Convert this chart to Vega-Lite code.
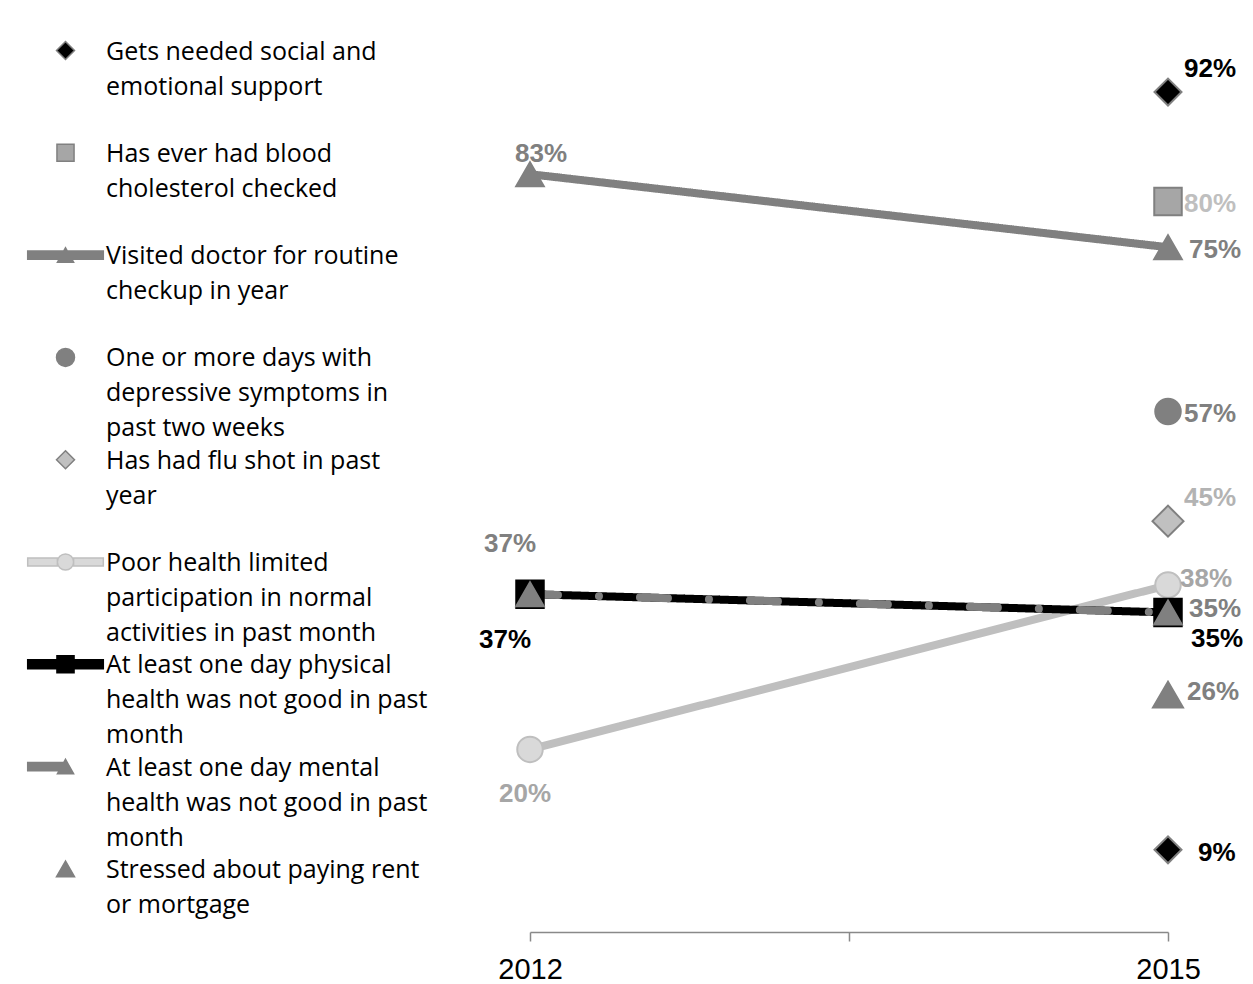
{
  "$schema": "https://vega.github.io/schema/vega-lite/v6.json",
  "width": 638,
  "height": 913,
  "autosize": {"type": "none"},
  "padding": {"left": 530, "top": 19, "right": 85, "bottom": 52},
  "background": "white",
  "config": {
    "view": {"stroke": null},
    "legend": {
      "gridAlign": "all",
      "padding": 0,
      "rowPadding": 5.3,
      "labelFont": "Open Sans",
      "labelFontSize": 25,
      "labelColor": "#000000",
      "labelLimit": 0,
      "labelOffset": 28,
      "labelBaseline": "alphabetic",
      "symbolSize": 324,
      "symbolStrokeWidth": 1.5,
      "symbolOpacity": 1
    }
  },
  "data": {
    "values": [
      {"series": "Gets needed social and emotional support", "year": 2015, "value": 0.92},
      {"series": "Gets needed social and emotional support", "year": 2015, "value": 0.09},
      {"series": "Has ever had blood cholesterol checked", "year": 2015, "value": 0.80},
      {"series": "Visited doctor for routine checkup in year", "year": 2012, "value": 0.83},
      {"series": "Visited doctor for routine checkup in year", "year": 2015, "value": 0.75},
      {"series": "One or more days with depressive symptoms in past two weeks", "year": 2015, "value": 0.57},
      {"series": "Has had flu shot in past year", "year": 2015, "value": 0.45},
      {"series": "Poor health limited participation in normal activities in past month", "year": 2012, "value": 0.20},
      {"series": "Poor health limited participation in normal activities in past month", "year": 2015, "value": 0.38},
      {"series": "At least one day physical health was not good in past month", "year": 2012, "value": 0.37},
      {"series": "At least one day physical health was not good in past month", "year": 2015, "value": 0.35},
      {"series": "At least one day mental health was not good in past month", "year": 2012, "value": 0.37},
      {"series": "At least one day mental health was not good in past month", "year": 2015, "value": 0.35},
      {"series": "Stressed about paying rent or mortgage", "year": 2015, "value": 0.26}
    ]
  },
  "encoding": {
    "x": {
      "field": "year", "type": "quantitative",
      "scale": {"domain": [2012, 2015]},
      "axis": {
        "values": [2012, 2013.5, 2015], "format": "d",
        "labelExpr": "datum.value == 2013.5 ? '' : datum.label",
        "grid": false, "title": null,
        "domainColor": "#898989", "domainWidth": 1.5,
        "tickColor": "#898989", "tickWidth": 1.5, "tickSize": 9,
        "labelFont": "Liberation Sans", "labelFontSize": 29, "labelColor": "#000000",
        "labelPadding": 14, "labelFlush": false, "labelOverlap": false
      }
    },
    "y": {"field": "value", "type": "quantitative", "scale": {"domain": [0, 1]}, "axis": null}
  },
  "layer": [
    {
      "mark": {"type": "point", "filled": true, "opacity": 0, "size": 324},
      "encoding": {
        "fill": {
          "field": "series", "type": "nominal",
          "scale": {
            "domain": ["Gets needed social and emotional support", "Has ever had blood cholesterol checked", "Visited doctor for routine checkup in year", "One or more days with depressive symptoms in past two weeks", "Has had flu shot in past year", "Poor health limited participation in normal activities in past month", "At least one day physical health was not good in past month", "At least one day mental health was not good in past month", "Stressed about paying rent or mortgage"],
            "range": ["#000000", "#a6a6a6", "#808080", "#808080", "#c0c0c0", "#d9d9d9", "#000000", "#808080", "#808080"]
          },
          "legend": {
            "title": null, "orient": "none", "legendX": -477, "legendY": 19,
            "labelExpr": "datum.label == 'Gets needed social and emotional support' ? ['Gets needed social and', 'emotional support'] : datum.label == 'Has ever had blood cholesterol checked' ? ['Has ever had blood', 'cholesterol checked'] : datum.label == 'Visited doctor for routine checkup in year' ? ['Visited doctor for routine', 'checkup in year'] : datum.label == 'One or more days with depressive symptoms in past two weeks' ? ['One or more days with', 'depressive symptoms in', 'past two weeks'] : datum.label == 'Has had flu shot in past year' ? ['Has had flu shot in past', 'year'] : datum.label == 'Poor health limited participation in normal activities in past month' ? ['Poor health limited', 'participation in normal', 'activities in past month'] : datum.label == 'At least one day physical health was not good in past month' ? ['At least one day physical', 'health was not good in past', 'month'] : datum.label == 'At least one day mental health was not good in past month' ? ['At least one day mental', 'health was not good in past', 'month'] : ['Stressed about paying rent', 'or mortgage']",
            "symbolOpacity": 1, "symbolSize": 324,
            "encode": {"labels": {"update": {"lineHeight": {"value": 35}, "dy": {"value": 9}}}}
          }
        },
        "stroke": {
          "field": "series", "type": "nominal",
          "scale": {
            "domain": ["Gets needed social and emotional support", "Has ever had blood cholesterol checked", "Visited doctor for routine checkup in year", "One or more days with depressive symptoms in past two weeks", "Has had flu shot in past year", "Poor health limited participation in normal activities in past month", "At least one day physical health was not good in past month", "At least one day mental health was not good in past month", "Stressed about paying rent or mortgage"],
            "range": ["#808080", "#808080", "#808080", "#808080", "#808080", "#bfbfbf", "#000000", "#808080", "#808080"]
          },
          "legend": {
            "title": null, "orient": "none", "legendX": -477, "legendY": 19,
            "labelExpr": "datum.label == 'Gets needed social and emotional support' ? ['Gets needed social and', 'emotional support'] : datum.label == 'Has ever had blood cholesterol checked' ? ['Has ever had blood', 'cholesterol checked'] : datum.label == 'Visited doctor for routine checkup in year' ? ['Visited doctor for routine', 'checkup in year'] : datum.label == 'One or more days with depressive symptoms in past two weeks' ? ['One or more days with', 'depressive symptoms in', 'past two weeks'] : datum.label == 'Has had flu shot in past year' ? ['Has had flu shot in past', 'year'] : datum.label == 'Poor health limited participation in normal activities in past month' ? ['Poor health limited', 'participation in normal', 'activities in past month'] : datum.label == 'At least one day physical health was not good in past month' ? ['At least one day physical', 'health was not good in past', 'month'] : datum.label == 'At least one day mental health was not good in past month' ? ['At least one day mental', 'health was not good in past', 'month'] : ['Stressed about paying rent', 'or mortgage']",
            "symbolOpacity": 1, "symbolSize": 324,
            "encode": {"labels": {"update": {"lineHeight": {"value": 35}, "dy": {"value": 9}}}}
          }
        },
        "shape": {
          "field": "series", "type": "nominal",
          "scale": {
            "domain": ["Gets needed social and emotional support", "Has ever had blood cholesterol checked", "Visited doctor for routine checkup in year", "One or more days with depressive symptoms in past two weeks", "Has had flu shot in past year", "Poor health limited participation in normal activities in past month", "At least one day physical health was not good in past month", "At least one day mental health was not good in past month", "Stressed about paying rent or mortgage"],
            "range": [
              "M0,-1L1,0L0,1L-1,0Z",
              "M-0.95,-0.95H0.95V0.95H-0.95Z",
              "M-4.2,-0.45H4.2V0.45H-4.2Z M-0.9,0.8L0,-0.8L0.9,0.8Z",
              "circle",
              "M0,-1L1,0L0,1L-1,0Z",
              "M-4.2,-0.45H-0.9V0.45H-4.2Z M0.9,-0.45H4.2V0.45H0.9Z M-0.9,0A0.9,0.9 0 1,0 0.9,0A0.9,0.9 0 1,0 -0.9,0Z",
              "M-4.2,-0.5H4.2V0.5H-4.2Z M-0.95,-0.95H0.95V0.95H-0.95Z",
              "M-4.2,-0.45H0V0.45H-4.2Z M-0.9,0.8L0,-0.8L0.9,0.8Z",
              "triangle-up"
            ]
          },
          "legend": {
            "title": null, "orient": "none", "legendX": -477, "legendY": 19,
            "labelExpr": "datum.label == 'Gets needed social and emotional support' ? ['Gets needed social and', 'emotional support'] : datum.label == 'Has ever had blood cholesterol checked' ? ['Has ever had blood', 'cholesterol checked'] : datum.label == 'Visited doctor for routine checkup in year' ? ['Visited doctor for routine', 'checkup in year'] : datum.label == 'One or more days with depressive symptoms in past two weeks' ? ['One or more days with', 'depressive symptoms in', 'past two weeks'] : datum.label == 'Has had flu shot in past year' ? ['Has had flu shot in past', 'year'] : datum.label == 'Poor health limited participation in normal activities in past month' ? ['Poor health limited', 'participation in normal', 'activities in past month'] : datum.label == 'At least one day physical health was not good in past month' ? ['At least one day physical', 'health was not good in past', 'month'] : datum.label == 'At least one day mental health was not good in past month' ? ['At least one day mental', 'health was not good in past', 'month'] : ['Stressed about paying rent', 'or mortgage']",
            "symbolOpacity": 1, "symbolSize": 324,
            "encode": {"labels": {"update": {"lineHeight": {"value": 35}, "dy": {"value": 9}}}}
          }
        }
      }
    },
    {
      "transform": [{"filter": "datum.series == 'Visited doctor for routine checkup in year' || datum.series == 'Poor health limited participation in normal activities in past month' || datum.series == 'At least one day physical health was not good in past month' || datum.series == 'At least one day mental health was not good in past month'"}],
      "mark": {"type": "line", "strokeWidth": 8, "strokeCap": "round"},
      "encoding": {
        "stroke": {"field": "series", "type": "nominal", "legend": null},
        "strokeDash": {
          "field": "series", "type": "nominal", "legend": null,
          "scale": {
            "domain": ["Visited doctor for routine checkup in year", "Poor health limited participation in normal activities in past month", "At least one day physical health was not good in past month", "At least one day mental health was not good in past month"],
            "range": [[1, 0], [1, 0], [1, 0], [28, 41, 0.01, 41]]
          }
        },
        "order": {"field": "year", "type": "quantitative"}
      }
    },
    {
      "transform": [{"filter": "datum.series == 'One or more days with depressive symptoms in past two weeks' || datum.series == 'Poor health limited participation in normal activities in past month'"}],
      "mark": {"type": "point", "shape": "circle", "filled": true, "opacity": 1, "strokeWidth": 2, "size": 650},
      "encoding": {
        "fill": {"field": "series", "type": "nominal", "legend": null},
        "stroke": {"field": "series", "type": "nominal", "legend": null}
      }
    },
    {
      "transform": [{"filter": "datum.series == 'Has ever had blood cholesterol checked' || datum.series == 'At least one day physical health was not good in past month'"}],
      "mark": {"type": "point", "shape": "square", "filled": true, "opacity": 1, "strokeWidth": 2, "size": 756},
      "encoding": {
        "fill": {"field": "series", "type": "nominal", "legend": null},
        "stroke": {"field": "series", "type": "nominal", "legend": null}
      }
    },
    {
      "transform": [{"filter": "datum.series == 'Gets needed social and emotional support'"}],
      "mark": {"type": "point", "shape": "diamond", "filled": true, "opacity": 1, "strokeWidth": 2, "size": 729},
      "encoding": {
        "fill": {"field": "series", "type": "nominal", "legend": null},
        "stroke": {"field": "series", "type": "nominal", "legend": null}
      }
    },
    {
      "transform": [{"filter": "datum.series == 'Has had flu shot in past year'"}],
      "mark": {"type": "point", "shape": "diamond", "filled": true, "opacity": 1, "strokeWidth": 2, "size": 961},
      "encoding": {
        "fill": {"field": "series", "type": "nominal", "legend": null},
        "stroke": {"field": "series", "type": "nominal", "legend": null}
      }
    },
    {
      "transform": [{"filter": "datum.series == 'Visited doctor for routine checkup in year' || datum.series == 'At least one day mental health was not good in past month'"}],
      "mark": {"type": "point", "shape": "triangle-up", "filled": true, "opacity": 1, "strokeWidth": 2, "size": 760},
      "encoding": {
        "fill": {"field": "series", "type": "nominal", "legend": null},
        "stroke": {"field": "series", "type": "nominal", "legend": null}
      }
    },
    {
      "transform": [{"filter": "datum.series == 'Stressed about paying rent or mortgage'"}],
      "mark": {"type": "point", "shape": "triangle-up", "filled": true, "opacity": 1, "strokeWidth": 2, "size": 900},
      "encoding": {
        "fill": {"field": "series", "type": "nominal", "legend": null},
        "stroke": {"field": "series", "type": "nominal", "legend": null}
      }
    },
    {
      "transform": [{"filter": "datum.year == 2015 && (datum.series == 'Has ever had blood cholesterol checked' || datum.series == 'One or more days with depressive symptoms in past two weeks')"}],
      "mark": {"type": "text", "align": "left", "baseline": "middle", "dx": 16, "dy": 2, "font": "Liberation Sans", "fontWeight": "bold", "fontSize": 26},
      "encoding": {
        "text": {"field": "value", "type": "quantitative", "format": ".0%"},
        "color": {
          "field": "series", "type": "nominal", "legend": null,
          "scale": {
            "domain": ["Gets needed social and emotional support", "Has ever had blood cholesterol checked", "Visited doctor for routine checkup in year", "One or more days with depressive symptoms in past two weeks", "Has had flu shot in past year", "Poor health limited participation in normal activities in past month", "At least one day physical health was not good in past month", "At least one day mental health was not good in past month", "Stressed about paying rent or mortgage"],
            "range": ["#000000", "#bfbfbf", "#808080", "#808080", "#b3b3b3", "#a6a6a6", "#000000", "#808080", "#808080"]
          }
        }
      }
    },
    {
      "transform": [{"filter": "datum.year == 2015 && datum.series == 'Visited doctor for routine checkup in year'"}],
      "mark": {"type": "text", "align": "left", "baseline": "middle", "dx": 21, "dy": 3, "font": "Liberation Sans", "fontWeight": "bold", "fontSize": 26},
      "encoding": {
        "text": {"field": "value", "type": "quantitative", "format": ".0%"},
        "color": {"field": "series", "type": "nominal", "legend": null}
      }
    },
    {
      "transform": [{"filter": "datum.year == 2015 && datum.series == 'At least one day mental health was not good in past month'"}],
      "mark": {"type": "text", "align": "left", "baseline": "middle", "dx": 21, "dy": -3, "font": "Liberation Sans", "fontWeight": "bold", "fontSize": 26},
      "encoding": {
        "text": {"field": "value", "type": "quantitative", "format": ".0%"},
        "color": {"field": "series", "type": "nominal", "legend": null}
      }
    },
    {
      "transform": [{"filter": "datum.series == 'Gets needed social and emotional support' && datum.value < 0.5"}],
      "mark": {"type": "text", "align": "left", "baseline": "middle", "dx": 30, "dy": 3, "font": "Liberation Sans", "fontWeight": "bold", "fontSize": 26},
      "encoding": {
        "text": {"field": "value", "type": "quantitative", "format": ".0%"},
        "color": {"field": "series", "type": "nominal", "legend": null}
      }
    },
    {
      "transform": [{"filter": "(datum.series == 'Gets needed social and emotional support' && datum.value > 0.5) || datum.series == 'Has had flu shot in past year'"}],
      "mark": {"type": "text", "align": "left", "baseline": "middle", "dx": 16, "dy": -23, "font": "Liberation Sans", "fontWeight": "bold", "fontSize": 26},
      "encoding": {
        "text": {"field": "value", "type": "quantitative", "format": ".0%"},
        "color": {"field": "series", "type": "nominal", "legend": null}
      }
    },
    {
      "transform": [{"filter": "datum.year == 2015 && datum.series == 'Poor health limited participation in normal activities in past month'"}],
      "mark": {"type": "text", "align": "left", "baseline": "middle", "dx": 12, "dy": -6, "font": "Liberation Sans", "fontWeight": "bold", "fontSize": 26},
      "encoding": {
        "text": {"field": "value", "type": "quantitative", "format": ".0%"},
        "color": {"field": "series", "type": "nominal", "legend": null}
      }
    },
    {
      "transform": [{"filter": "datum.series == 'Stressed about paying rent or mortgage'"}],
      "mark": {"type": "text", "align": "left", "baseline": "middle", "dx": 19, "dy": -3, "font": "Liberation Sans", "fontWeight": "bold", "fontSize": 26},
      "encoding": {
        "text": {"field": "value", "type": "quantitative", "format": ".0%"},
        "color": {"field": "series", "type": "nominal", "legend": null}
      }
    },
    {
      "transform": [{"filter": "datum.year == 2015 && datum.series == 'At least one day physical health was not good in past month'"}],
      "mark": {"type": "text", "align": "left", "baseline": "middle", "dx": 23, "dy": 27, "font": "Liberation Sans", "fontWeight": "bold", "fontSize": 26},
      "encoding": {
        "text": {"field": "value", "type": "quantitative", "format": ".0%"},
        "color": {"field": "series", "type": "nominal", "legend": null}
      }
    },
    {
      "transform": [{"filter": "datum.year == 2012 && datum.series == 'Visited doctor for routine checkup in year'"}],
      "mark": {"type": "text", "align": "center", "baseline": "middle", "dx": 11, "dy": -20, "font": "Liberation Sans", "fontWeight": "bold", "fontSize": 26},
      "encoding": {
        "text": {"field": "value", "type": "quantitative", "format": ".0%"},
        "color": {"field": "series", "type": "nominal", "legend": null}
      }
    },
    {
      "transform": [{"filter": "datum.year == 2012 && datum.series == 'At least one day mental health was not good in past month'"}],
      "mark": {"type": "text", "align": "center", "baseline": "middle", "dx": -20, "dy": -50, "font": "Liberation Sans", "fontWeight": "bold", "fontSize": 26},
      "encoding": {
        "text": {"field": "value", "type": "quantitative", "format": ".0%"},
        "color": {"field": "series", "type": "nominal", "legend": null}
      }
    },
    {
      "transform": [{"filter": "datum.year == 2012 && datum.series == 'At least one day physical health was not good in past month'"}],
      "mark": {"type": "text", "align": "center", "baseline": "middle", "dx": -25, "dy": 46, "font": "Liberation Sans", "fontWeight": "bold", "fontSize": 26},
      "encoding": {
        "text": {"field": "value", "type": "quantitative", "format": ".0%"},
        "color": {"field": "series", "type": "nominal", "legend": null}
      }
    },
    {
      "transform": [{"filter": "datum.year == 2012 && datum.series == 'Poor health limited participation in normal activities in past month'"}],
      "mark": {"type": "text", "align": "center", "baseline": "middle", "dx": -5, "dy": 45, "font": "Liberation Sans", "fontWeight": "bold", "fontSize": 26},
      "encoding": {
        "text": {"field": "value", "type": "quantitative", "format": ".0%"},
        "color": {"field": "series", "type": "nominal", "legend": null}
      }
    }
  ]
}
